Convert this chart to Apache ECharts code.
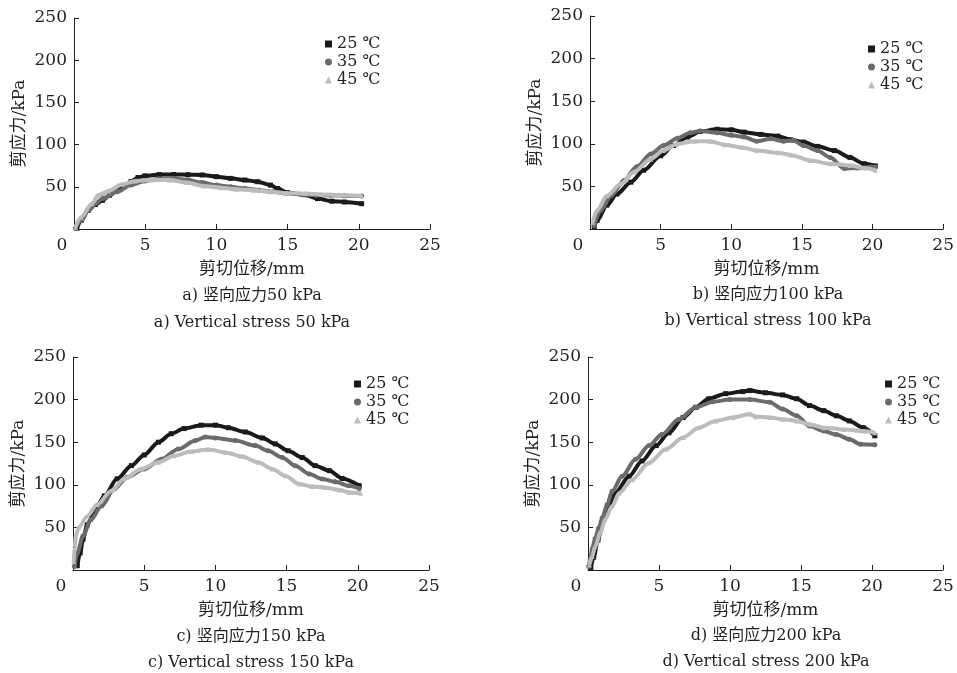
<!DOCTYPE html>
<html>
<head>
<meta charset="utf-8">
<script src="https://cdn.jsdelivr.net/npm/echarts@6/dist/echarts.min.js"></script>
<style>
  html, body { margin: 0; padding: 0; background: #fff; }
  #chart { width: 957px; height: 673px; }
</style>
</head>
<body>
<div id="chart"></div>
<script>
// 剪切位移(mm) - 剪应力(kPa)
var temps = ["25 ℃", "35 ℃", "45 ℃"];
var xTicks = [0, 5, 10, 15, 20, 25];
var yTicks = [0, 50, 100, 150, 200, 250];
var captionsCn = ["a) 竖向应力50 kPa", "b) 竖向应力100 kPa", "c) 竖向应力150 kPa", "d) 竖向应力200 kPa"];
var captionsEn = ["a) Vertical stress 50 kPa", "b) Vertical stress 100 kPa", "c) Vertical stress 150 kPa", "d) Vertical stress 200 kPa"];

// a) 50 kPa
var a25 = [[0.2,1],[0.5,10],[1,22],[1.5,29],[2,34],[2.5,40],[3,45],[3.5,50],[4,56],[4.5,61],[5,63],[6,64.5],[7,64.6],[8,64.3],[9,64],[10,62],[11,60],[12,58],[12.9,56],[13.8,52],[14.3,48],[15,43],[16.2,40.6],[17.1,36],[18.1,33],[19,32],[20.2,30]];
var a35 = [[0.1,1],[0.5,10],[1,22],[1.5,30],[2,36],[3,44],[4,52],[5,57],[6,59.5],[7,60],[8,58],[9,55],[10,52],[11,50],[12,48],[13,46],[14,44],[15,42],[16,41],[17,40],[18,40],[19,39.5],[20.2,39]];
var a45 = [[0.1,2],[0.5,14],[1.25,30],[1.7,40],[2,42],[2.4,45],[3.4,53],[4.3,57],[5.5,58],[6.7,58],[7.9,55],[9.1,51],[10.3,49],[11.4,47],[12.6,46],[13.8,44],[15,42.5],[16.2,42],[17.4,41],[18.6,40],[20.2,39.4]];
// b) 100 kPa
var b25 = [[0.3,3],[0.5,10],[1.2,28],[1.9,41],[2.9,55],[3.8,69],[5,86],[5.9,98],[6.9,108],[7.8,114.5],[9,117],[10,116.4],[10.9,113.7],[12.1,111],[13.3,109],[14.2,104.7],[15.1,102],[16.1,97],[17.3,92],[18.4,84],[19.4,76.6],[20.2,74]];
var b35 = [[0.3,4],[0.75,22],[1.5,39],[2.4,57],[3.3,73],[4.3,88],[5.2,98],[6.2,106.6],[7.1,113],[7.8,115],[9,113],[10,110],[10.9,108],[11.8,103],[12.8,106],[13.7,103],[14.4,104],[15.1,98],[16.1,92],[17,84],[18,71],[18.9,71.5],[19.9,72.7],[20.2,72.7]];
var b45 = [[0.2,8],[0.5,22],[1.2,39],[2.2,53],[3.1,67],[4.3,82],[5.2,92],[6.2,100],[7.4,103],[8.5,103],[9.5,99],[10.7,96],[11.8,92],[13.3,89.5],[14.2,87],[15.6,80.5],[17,76.6],[18.4,74.6],[19.4,71.5],[20.2,69]];
// c) 150 kPa
var c25 = [[0.3,5],[0.5,20],[0.7,36],[1,53],[1.5,69],[2.2,87],[3.1,107],[4.1,122.5],[5,135],[6,150],[6.9,160],[7.8,166],[9,170],[10,170],[10.9,167],[12.1,162],[13.3,155],[14.2,148],[15.1,140],[16.1,132],[17,122.5],[18,116.6],[18.9,107.5],[20.1,99]];
var c35 = [[0.1,4],[0.3,20],[0.7,40],[1.25,59],[2,75],[2.9,95],[3.8,109],[5,118.6],[6.2,130],[7.4,142],[8.6,152],[9.3,156],[10,155],[11.4,152],[12.8,146],[13.7,140],[14.7,132],[15.6,122.5],[16.6,112.6],[17.5,106.7],[18.4,103.6],[19.4,98.8],[20.1,95.7]];
var c45 = [[0.05,10],[0.1,25],[0.2,40],[0.4,50],[1,63],[1.7,77],[2.7,93],[3.6,107],[4.8,118.6],[6,126.5],[7.1,134],[8.3,139],[9.5,141.5],[10.7,138],[11.8,133.6],[13,126.5],[14,118.6],[14.9,110.7],[15.9,100.8],[16.8,98],[17.7,96.8],[18.7,94],[19.4,91],[20.2,90]];
// d) 200 kPa
var d25 = [[0.2,3],[0.4,15],[0.7,35],[1,55],[1.5,75],[1.9,90],[2.9,110],[3.8,128],[4.8,146],[5.7,161],[6.7,179],[7.6,191],[8.5,201],[9.7,207],[10.9,209.4],[11.4,210.6],[12.5,208],[13.7,205.5],[14.7,201],[15.6,193],[16.6,187],[17.5,181],[18.4,175],[19.4,167],[20.2,157.5]];
var d35 = [[0.05,4],[0.15,12],[0.3,25],[0.5,37],[0.75,49],[1,61],[1.35,77],[1.7,92.5],[2.4,110],[3.35,130],[4.3,146],[5.2,159],[6.4,177],[7.6,191],[8.8,197.6],[10,200],[11.4,200],[12.8,197],[13.7,189],[14.7,181],[15.6,169],[16.6,163],[17.5,159],[18.4,153.5],[19.2,147.6],[20.2,147]];
var d45 = [[0.1,6],[0.3,16],[0.5,27.5],[0.9,45],[1.2,59],[1.7,75],[2.2,90.5],[3.1,106],[4.3,126],[5.5,142],[6.7,155.5],[7.8,167],[9,175],[10.2,179],[11.4,183],[11.8,180],[12.8,179],[13.7,177],[14.7,175],[15.6,171],[16.6,167],[18,165],[19.4,163],[20.2,161]];

var panels = [[a25, a35, a45], [b25, b35, b45], [c25, c35, c45], [d25, d35, d45]];

var FONT = "'DejaVu Serif', 'Noto Sans CJK SC', serif";
var TXT = "#231f20";
var colors = ["#1a1a1a", "#6b6b6b", "#bcbcbc"];
var symbols = ["rect", "circle", "triangle"];

// 版面位置
var grids = [
  { left: 74, top: 18, width: 356, height: 211 },
  { left: 590, top: 16, width: 356, height: 213 },
  { left: 73, top: 357, width: 356, height: 213 },
  { left: 588, top: 357, width: 355, height: 213 }
];
var legendPos = [
  { left: 320, top: 30 },
  { left: 863, top: 35 },
  { left: 349, top: 370 },
  { left: 880, top: 370 }
];
var captionPos = [
  { x: 252, cn: 296, en: 323 },
  { x: 768, cn: 295, en: 321 },
  { x: 251, cn: 637, en: 663 },
  { x: 766, cn: 636, en: 662 }
];

var chart = echarts.init(document.getElementById("chart"));

var xAxes = [], yAxes = [], series = [], legends = [], graphics = [];
grids.forEach(function (g, i) {
  xAxes.push({
    gridIndex: i,
    type: "value",
    min: xTicks[0],
    max: xTicks[xTicks.length - 1],
    interval: 5,
    name: "剪切位移/mm",
    nameLocation: "middle",
    nameGap: 41,
    nameTextStyle: { fontFamily: FONT, fontSize: 17, color: TXT, verticalAlign: "middle" },
    axisLine: { lineStyle: { color: TXT, width: 1 } },
    axisTick: { inside: true, length: 5, lineStyle: { color: TXT } },
    axisLabel: {
      fontFamily: FONT, fontSize: 17, color: TXT, margin: 8,
      formatter: function (v) { return v === 0 ? "{z|0}" : String(v); },
      rich: { z: { fontFamily: FONT, fontSize: 17, color: TXT, padding: [0, 24, 0, 0] } }
    },
    splitLine: { show: false }
  });
  yAxes.push({
    gridIndex: i,
    type: "value",
    min: yTicks[0],
    max: yTicks[yTicks.length - 1],
    interval: 50,
    name: "剪应力/kPa",
    nameLocation: "middle",
    nameRotate: 90,
    nameGap: 54,
    nameTextStyle: { fontFamily: FONT, fontSize: 17, color: TXT, verticalAlign: "middle" },
    axisLine: { show: true, lineStyle: { color: TXT, width: 1 } },
    axisTick: { show: true, inside: true, length: 5, lineStyle: { color: TXT } },
    axisLabel: {
      fontFamily: FONT, fontSize: 17, color: TXT, margin: 7,
      formatter: function (v) { return v === 0 ? "" : String(v); }
    },
    splitLine: { show: false }
  });
  panels[i].forEach(function (data, k) {
    series.push({
      name: temps[k],
      type: "line",
      xAxisIndex: i,
      yAxisIndex: i,
      data: data,
      smooth: 0.3,
      smoothMonotone: "x",
      symbol: symbols[k],
      symbolSize: 5,
      showSymbol: true,
      itemStyle: { color: colors[k] },
      lineStyle: { color: colors[k], width: 4 },
      z: 2 + k
    });
  });
  legends.push({
    orient: "vertical",
    left: legendPos[i].left,
    top: legendPos[i].top,
    itemWidth: 7,
    itemHeight: 7,
    itemGap: 0,
    data: temps.map(function (t, k) { return { name: t, icon: symbols[k] }; }),
    textStyle: { fontFamily: FONT, fontSize: 16, lineHeight: 18, color: TXT }
  });
  graphics.push({
    type: "text",
    x: captionPos[i].x, y: captionPos[i].cn,
    style: { text: captionsCn[i], fontFamily: FONT, fontSize: 16, fill: TXT, textAlign: "center", textVerticalAlign: "middle" }
  });
  graphics.push({
    type: "text",
    x: captionPos[i].x, y: captionPos[i].en,
    style: { text: captionsEn[i], fontFamily: FONT, fontSize: 16, fill: TXT, textAlign: "center", textVerticalAlign: "middle" }
  });
});

var option = {
  animation: false,
  backgroundColor: "#fff",
  grid: grids,
  xAxis: xAxes,
  yAxis: yAxes,
  legend: legends,
  series: series,
  graphic: graphics
};
chart.setOption(option);
</script>
</body>
</html>
